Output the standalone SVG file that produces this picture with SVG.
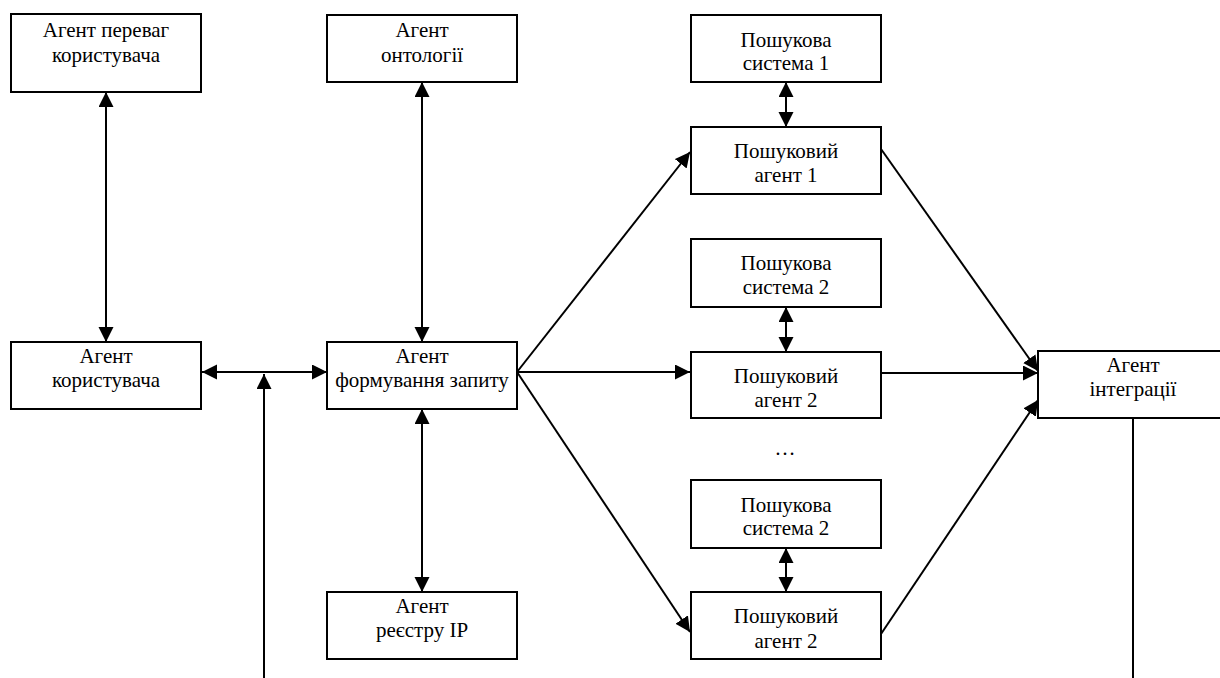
<svg xmlns="http://www.w3.org/2000/svg" width="1220" height="678" viewBox="0 0 1220 678">
<style>
.box{fill:#fff;stroke:#000;stroke-width:2}
text{font-family:'Liberation Serif','Times New Roman',serif;font-size:21px;fill:#000;text-anchor:middle}
.c{stroke:#000;stroke-width:2;fill:none}
</style>
<defs>
<marker id="ah" markerUnits="userSpaceOnUse" markerWidth="16" markerHeight="16" refX="15" refY="7.5" orient="auto-start-reverse" viewBox="0 0 16 16">
<path d="M0,0 L15,7.5 L0,15 z" fill="#000"/>
</marker>
</defs>
<rect width="1220" height="678" fill="#fff"/>
<g id="connectors">
<line class="c" x1="106" y1="92" x2="106" y2="342" marker-start="url(#ah)" marker-end="url(#ah)"/>
<line class="c" x1="422" y1="82" x2="422" y2="342" marker-start="url(#ah)" marker-end="url(#ah)"/>
<line class="c" x1="422" y1="409" x2="422" y2="592" marker-start="url(#ah)" marker-end="url(#ah)"/>
<line class="c" x1="202" y1="372" x2="327" y2="372" marker-start="url(#ah)" marker-end="url(#ah)"/>
<line class="c" x1="264" y1="678" x2="264" y2="374" marker-end="url(#ah)"/>
<line class="c" x1="517" y1="372" x2="690" y2="152" marker-end="url(#ah)"/>
<line class="c" x1="517" y1="372" x2="690" y2="372" marker-end="url(#ah)"/>
<line class="c" x1="517" y1="372" x2="690" y2="632" marker-end="url(#ah)"/>
<line class="c" x1="786" y1="82" x2="786" y2="127" marker-start="url(#ah)" marker-end="url(#ah)"/>
<line class="c" x1="786" y1="307" x2="786" y2="352" marker-start="url(#ah)" marker-end="url(#ah)"/>
<line class="c" x1="786" y1="548" x2="786" y2="592" marker-start="url(#ah)" marker-end="url(#ah)"/>
<line class="c" x1="881" y1="149" x2="1038" y2="371" marker-end="url(#ah)"/>
<line class="c" x1="875" y1="373" x2="1038" y2="373" marker-end="url(#ah)"/>
<line class="c" x1="881" y1="634" x2="1038" y2="400" marker-end="url(#ah)"/>
<line class="c" x1="1133" y1="418" x2="1133" y2="678"/>
</g>
<g id="n_prefs">
<rect class="box" x="11" y="14" width="190" height="78"/>
<text x="106" y="37">Агент переваг</text>
<text x="106" y="62">користувача</text>
</g>
<g id="n_ontology">
<rect class="box" x="327" y="15" width="190" height="67"/>
<text x="422" y="37">Агент</text>
<text x="422" y="62">онтології</text>
</g>
<g id="n_user">
<rect class="box" x="11" y="342" width="190" height="67"/>
<text x="106" y="363">Агент</text>
<text x="106" y="387">користувача</text>
</g>
<g id="n_query">
<rect class="box" x="327" y="342" width="190" height="67"/>
<text x="422" y="363">Агент</text>
<text x="422" y="387">формування запиту</text>
</g>
<g id="n_registry">
<rect class="box" x="327" y="592" width="190" height="67"/>
<text x="422" y="613">Агент</text>
<text x="422" y="637">реєстру IP</text>
</g>
<g id="n_sys1">
<rect class="box" x="691" y="15" width="190" height="67"/>
<text x="786" y="47">Пошукова</text>
<text x="786" y="70">система 1</text>
</g>
<g id="n_agent1">
<rect class="box" x="691" y="127" width="190" height="67"/>
<text x="786" y="158">Пошуковий</text>
<text x="786" y="182">агент 1</text>
</g>
<g id="n_sys2">
<rect class="box" x="691" y="239" width="190" height="68"/>
<text x="786" y="270">Пошукова</text>
<text x="786" y="294">система 2</text>
</g>
<g id="n_agent2">
<rect class="box" x="691" y="352" width="190" height="66"/>
<text x="786" y="383">Пошуковий</text>
<text x="786" y="407">агент 2</text>
</g>
<g id="n_dots">
<text x="785" y="455">…</text>
</g>
<g id="n_sys2b">
<rect class="box" x="691" y="480" width="190" height="68"/>
<text x="786" y="512">Пошукова</text>
<text x="786" y="535">система 2</text>
</g>
<g id="n_agent2b">
<rect class="box" x="691" y="592" width="190" height="67"/>
<text x="786" y="623">Пошуковий</text>
<text x="786" y="648">агент 2</text>
</g>
<g id="n_integration">
<rect class="box" x="1038" y="351" width="190" height="67"/>
<text x="1133" y="372">Агент</text>
<text x="1133" y="396">інтеграції</text>
</g>
</svg>
